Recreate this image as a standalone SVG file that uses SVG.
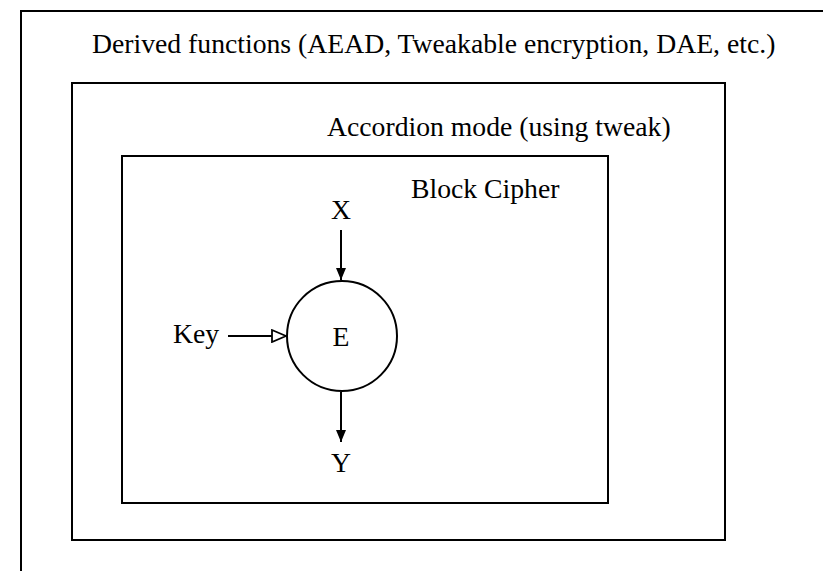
<svg xmlns="http://www.w3.org/2000/svg" width="823" height="571" viewBox="0 0 823 571">
<style>
.box{fill:none;stroke:#000;stroke-width:2}
.t{font-family:"Liberation Serif","Times New Roman",serif;font-size:27.7px;fill:#000}
.c{stroke:#000;stroke-width:2;fill:none}
</style>
<defs>
<marker id="filled" viewBox="0 0 12 12" refX="12" refY="6" markerWidth="12" markerHeight="12" markerUnits="userSpaceOnUse" orient="auto">
<path d="M0,1 L12,6 L0,11 Z" fill="#000"/>
</marker>
<marker id="hollow" viewBox="0 0 16 14" refX="15" refY="7" markerWidth="16" markerHeight="14" markerUnits="userSpaceOnUse" orient="auto">
<path d="M1,1 L15,7 L1,13 Z" fill="#fff" stroke="#000" stroke-width="1.8"/>
</marker>
</defs>
<rect width="823" height="571" fill="#fff"/>
<g id="derived">
<rect class="box" x="21" y="11" width="850" height="620"/>
<text class="t" x="92" y="53">Derived functions (AEAD, Tweakable encryption, DAE, etc.)</text>
</g>
<g id="accordion">
<rect class="box" x="72" y="83" width="653" height="457"/>
<text class="t" x="327" y="136">Accordion mode (using tweak)</text>
</g>
<g id="blockcipher">
<rect class="box" x="122" y="156" width="486" height="347"/>
<text class="t" x="411" y="198">Block Cipher</text>
</g>
<g id="E">
<circle class="c" cx="342" cy="336" r="55"/>
<text class="t" x="341" y="346" text-anchor="middle">E</text>
</g>
<g id="X"><text class="t" x="341" y="219" text-anchor="middle">X</text></g>
<g id="Key"><text class="t" x="173" y="343">Key</text></g>
<g id="Y"><text class="t" x="341" y="472" text-anchor="middle">Y</text></g>
<g id="connectors">
<line class="c" x1="341" y1="230" x2="341" y2="280" marker-end="url(#filled)"/>
<line class="c" x1="228" y1="336" x2="286" y2="336" marker-end="url(#hollow)"/>
<line class="c" x1="341" y1="392" x2="341" y2="442" marker-end="url(#filled)"/>
</g>
</svg>
